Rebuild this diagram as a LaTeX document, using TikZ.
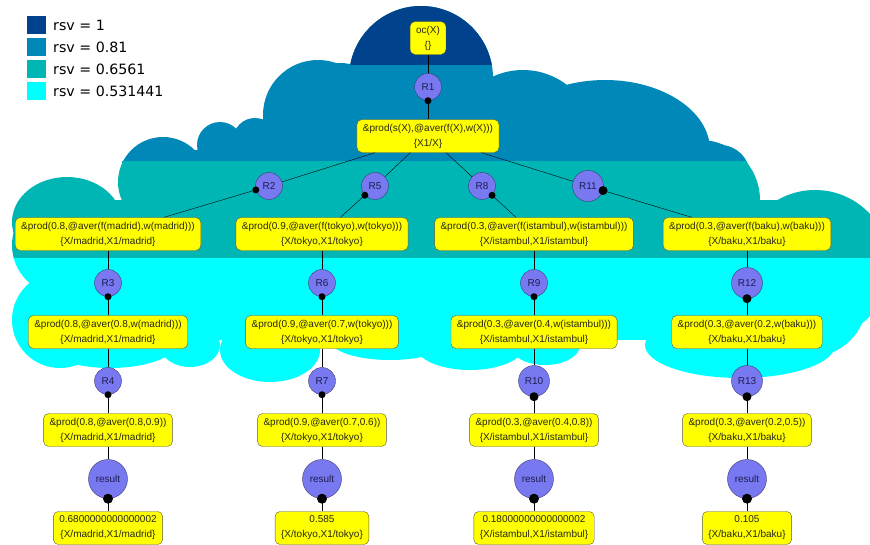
\documentclass[tikz,border=0pt]{standalone}
\usepackage{fontspec}
\setmainfont{Liberation Sans}
\newfontfamily\legendfont{DejaVu Sans}
\usepackage{tikz}

\definecolor{rsvone}{RGB}{0,66,140}
\definecolor{rsvtwo}{RGB}{0,136,184}
\definecolor{rsvthree}{RGB}{0,182,180}
\definecolor{rsvfour}{RGB}{0,255,255}
\definecolor{goalyellow}{RGB}{255,255,0}
\definecolor{boxline}{RGB}{90,90,60}
\definecolor{boxtext}{RGB}{40,40,20}
\definecolor{rulefill}{RGB}{120,120,240}
\definecolor{ruleline}{RGB}{60,60,110}
\definecolor{ruletext}{RGB}{30,30,80}

\tikzset{
  goal/.style={draw=boxline, fill=goalyellow, rounded corners=5pt, align=center,
    font=\fontsize{10}{15}\selectfont, text=boxtext, inner xsep=6pt, inner ysep=3pt,
    minimum height=33pt},
  rule/.style={circle, draw=ruleline, fill=rulefill, inner sep=0pt, minimum size=27pt,
    font=\fontsize{10}{12}\selectfont, text=ruletext},
  widerule/.style={rule, minimum size=31pt},
  resultrule/.style={rule, minimum size=39pt},
  bead/.style={circle, fill=black, inner sep=0pt, minimum size=7pt},
  widebead/.style={bead, minimum size=9pt},
  bigbead/.style={bead, minimum size=10pt},
  legend/.style={anchor=west, inner sep=0pt, font=\legendfont\fontsize{14.2}{17}\selectfont}
}

% the cloud, as a union of round pieces
\newcommand{\cloudfill}[1]{%
  \fill[#1] (421,78) circle (72pt);
  \fill[#1] (340,110) circle (47pt);
  \fill[#1] (318,115) circle (55pt);
  \fill[#1] (255,140) circle (22pt);
  \fill[#1] (220,145) circle (23pt);
  \fill[#1] (163,182) circle (45pt);
  \fill[#1] (523,142) circle (72pt);
  \fill[#1] (605,150) ellipse [x radius=105pt, y radius=70pt];
  \fill[#1] (720,175) circle (30pt);
  \fill[#1] (160,150) rectangle (705,165);
  \fill[#1] (250,120) rectangle (600,165);
  \fill[#1] (700,200) circle (60pt);
  \fill[#1] (815,265) circle (75pt);
  \fill[#1] (67,222) ellipse [x radius=55pt, y radius=45pt];
  \fill[#1] (62,245) circle (50pt);
  \fill[#1] (122,161) rectangle (745,262);
  \fill[#1] (60,200) rectangle (800,262);
  \fill[#1] (60,320) circle (48pt);
  \fill[#1] (45,255) rectangle (840,340);
  \fill[#1] (110,340) ellipse [x radius=70pt, y radius=28pt];
  \fill[#1] (190,345) ellipse [x radius=30pt, y radius=22pt];
  \fill[#1] (270,350) ellipse [x radius=50pt, y radius=32pt];
  \fill[#1] (390,340) ellipse [x radius=60pt, y radius=20pt];
  \fill[#1] (470,345) ellipse [x radius=55pt, y radius=25pt];
  \fill[#1] (545,345) ellipse [x radius=35pt, y radius=20pt];
  \fill[#1] (740,345) ellipse [x radius=95pt, y radius=33pt];
  \fill[#1] (810,300) circle (57pt);
  \fill[#1] (850,280) circle (30pt);
}

\begin{document}
\begin{tikzpicture}[x=1pt,y=-1pt]
\useasboundingbox (0,0) rectangle (870,544);

% bands
\begin{scope}
\clip (0,0) rectangle (870,161);
\cloudfill{rsvtwo}
\end{scope}
\begin{scope}
\clip (0,0) rectangle (870,64);
\fill[rsvone] (421,78) circle (72pt);
\end{scope}
\begin{scope}
\clip (0,161) rectangle (870,258);
\cloudfill{rsvthree}
\end{scope}
\begin{scope}
\clip (0,258) rectangle (870,544);
\cloudfill{rsvfour}
\end{scope}

% legend
\fill[rsvone] (27,16) rectangle (46,34);
\fill[rsvtwo] (27,38) rectangle (46,56);
\fill[rsvthree] (27,60) rectangle (46,78);
\fill[rsvfour] (27,82) rectangle (46,100);
\node[legend] (leg1) at (53,25) {rsv = 1};
\node[legend] (leg2) at (53,47) {rsv = 0.81};
\node[legend] (leg3) at (53,69) {rsv = 0.6561};
\node[legend] (leg4) at (53,91) {rsv = 0.531441};

% top of the tree
\node[goal] (oc) at (428,38) {oc(X)\\\{\}};
\node[rule] (r1) at (428,87) {R1};
\node[goal] (top) at (428,136) {\&prod(s(X),@aver(f(X),w(X)))\\\{X1/X\}};
\node[rule] (r2) at (269,186) {R2};
\node[rule] (r5) at (375,186) {R5};
\node[rule] (r8) at (482,186) {R8};
\node[widerule] (r11) at (588,186) {R11};

% madrid
\node[goal] (mad1) at (108,234) {\&prod(0.8,@aver(f(madrid),w(madrid)))\\\{X/madrid,X1/madrid\}};
\node[rule] (r3) at (108,283) {R3};
\node[goal] (mad2) at (108,332) {\&prod(0.8,@aver(0.8,w(madrid)))\\\{X/madrid,X1/madrid\}};
\node[rule] (r4) at (108,381) {R4};
\node[goal] (mad3) at (108,430) {\&prod(0.8,@aver(0.8,0.9))\\\{X/madrid,X1/madrid\}};
\node[resultrule] (resmad) at (108,479) {result};
\node[goal] (madval) at (108,528) {0.6800000000000002\\\{X/madrid,X1/madrid\}};

% tokyo
\node[goal] (tok1) at (322,234) {\&prod(0.9,@aver(f(tokyo),w(tokyo)))\\\{X/tokyo,X1/tokyo\}};
\node[rule] (r6) at (322,283) {R6};
\node[goal] (tok2) at (322,332) {\&prod(0.9,@aver(0.7,w(tokyo)))\\\{X/tokyo,X1/tokyo\}};
\node[rule] (r7) at (322,381) {R7};
\node[goal] (tok3) at (322,430) {\&prod(0.9,@aver(0.7,0.6))\\\{X/tokyo,X1/tokyo\}};
\node[resultrule] (restok) at (322,479) {result};
\node[goal] (tokval) at (322,528) {0.585\\\{X/tokyo,X1/tokyo\}};

% istambul
\node[goal] (ist1) at (534,234) {\&prod(0.3,@aver(f(istambul),w(istambul)))\\\{X/istambul,X1/istambul\}};
\node[rule] (r9) at (534,283) {R9};
\node[goal] (ist2) at (534,332) {\&prod(0.3,@aver(0.4,w(istambul)))\\\{X/istambul,X1/istambul\}};
\node[widerule] (r10) at (534,381) {R10};
\node[goal] (ist3) at (534,430) {\&prod(0.3,@aver(0.4,0.8))\\\{X/istambul,X1/istambul\}};
\node[resultrule] (resist) at (534,479) {result};
\node[goal] (istval) at (534,528) {0.18000000000000002\\\{X/istambul,X1/istambul\}};

% baku
\node[goal] (bak1) at (747,234) {\&prod(0.3,@aver(f(baku),w(baku)))\\\{X/baku,X1/baku\}};
\node[widerule] (r12) at (747,283) {R12};
\node[goal] (bak2) at (747,332) {\&prod(0.3,@aver(0.2,w(baku)))\\\{X/baku,X1/baku\}};
\node[widerule] (r13) at (747,381) {R13};
\node[goal] (bak3) at (747,430) {\&prod(0.3,@aver(0.2,0.5))\\\{X/baku,X1/baku\}};
\node[resultrule] (resbak) at (747,479) {result};
\node[goal] (bakval) at (747,528) {0.105\\\{X/baku,X1/baku\}};

% connectors
\draw (oc) -- (r1);
\draw (r1) -- node[bead, pos=0] {} (top);
\draw (top) -- (r2);
\draw (top) -- (r5);
\draw (top) -- (r8);
\draw (top) -- (r11);
\draw (r2) -- node[bead, pos=0] {} (mad1);
\draw (r5) -- node[bead, pos=0] {} (tok1);
\draw (r8) -- node[bead, pos=0] {} (ist1);
\draw (r11) -- node[widebead, pos=0] {} (bak1);

\draw (mad1) -- (r3);
\draw (r3) -- node[bead, pos=0] {} (mad2);
\draw (mad2) -- (r4);
\draw (r4) -- node[bead, pos=0] {} (mad3);
\draw (mad3) -- (resmad);
\draw (resmad) -- node[bigbead, pos=0] {} (madval);

\draw (tok1) -- (r6);
\draw (r6) -- node[bead, pos=0] {} (tok2);
\draw (tok2) -- (r7);
\draw (r7) -- node[bead, pos=0] {} (tok3);
\draw (tok3) -- (restok);
\draw (restok) -- node[bigbead, pos=0] {} (tokval);

\draw (ist1) -- (r9);
\draw (r9) -- node[bead, pos=0] {} (ist2);
\draw (ist2) -- (r10);
\draw (r10) -- node[widebead, pos=0] {} (ist3);
\draw (ist3) -- (resist);
\draw (resist) -- node[bigbead, pos=0] {} (istval);

\draw (bak1) -- (r12);
\draw (r12) -- node[widebead, pos=0] {} (bak2);
\draw (bak2) -- (r13);
\draw (r13) -- node[widebead, pos=0] {} (bak3);
\draw (bak3) -- (resbak);
\draw (resbak) -- node[bigbead, pos=0] {} (bakval);
\end{tikzpicture}
\end{document}
